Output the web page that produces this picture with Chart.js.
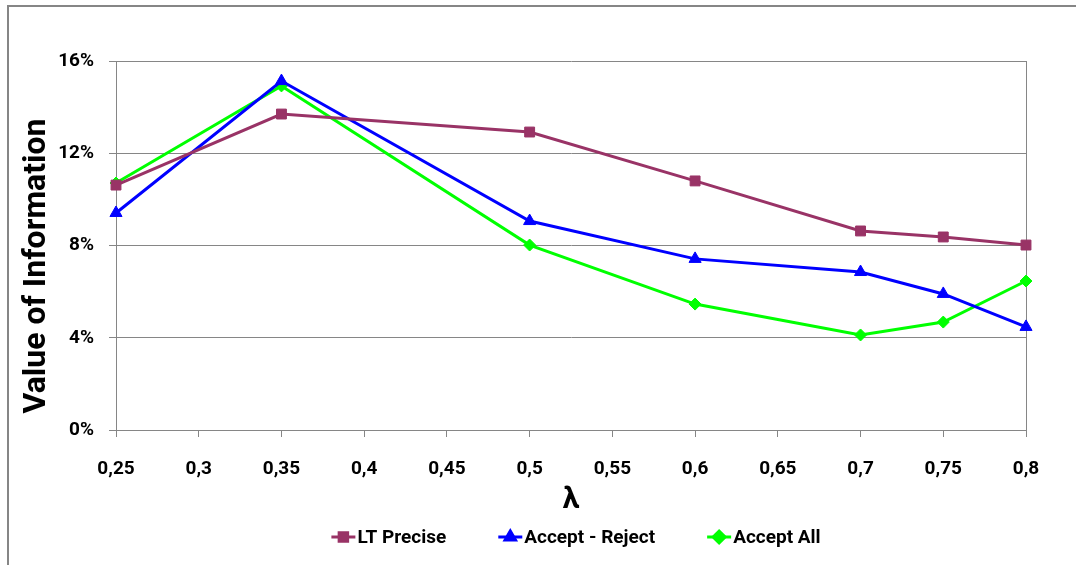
<!DOCTYPE html>
<html>
<head>
<meta charset="utf-8">
<script src="https://cdn.jsdelivr.net/npm/chart.js@4"></script>
<style>
  html, body { margin: 0; padding: 0; background: #fff; }
  #wrap { position: relative; width: 1076px; height: 565px; }
</style>
</head>
<body>
<div id="wrap"><canvas id="c" width="1076" height="565"></canvas></div>
<script>
// λ values and value-of-information (%) for each strategy
const lambdas       = [0.25, 0.35, 0.5, 0.6, 0.7, 0.75, 0.8];
const ltPrecise     = [10.62, 13.70, 12.92, 10.80, 8.63, 8.37, 8.02];
const acceptReject  = [9.41, 15.13, 9.06, 7.42, 6.85, 5.90, 4.47];
const acceptAll     = [10.71, 14.92, 8.02, 5.46, 4.12, 4.68, 6.46];
const seriesNames   = ['LT Precise', 'Accept - Reject', 'Accept All'];
const yTicks        = [0, 4, 8, 12, 16];
const yTitle        = 'Value of Information';
const xTitle        = 'λ';

const FONT = 'Roboto, "Liberation Sans", sans-serif';
const GRID = '#868686';

function pts(vals) { return lambdas.map((x, i) => ({ x, y: vals[i] })); }

const styles = [
  { color: '#993366', point: 'rect', radius: 7 },
  { color: '#0000FF', point: 'triangle', radius: 7 },
  { color: '#00FF00', point: 'rectRot', radius: 6 }
];
const seriesData = [ltPrecise, acceptReject, acceptAll];

// outer frame, right edge of the plot area, the y title and a line+marker legend
const frame = {
  id: 'frame',
  beforeDatasetsDraw(chart) {
    const ctx = chart.ctx, a = chart.chartArea;
    ctx.save();
    ctx.strokeStyle = GRID; ctx.lineWidth = 1;
    ctx.beginPath();
    ctx.moveTo(Math.round(a.right) + 0.5, a.top);
    ctx.lineTo(Math.round(a.right) + 0.5, a.bottom + 7);
    ctx.stroke();
    ctx.restore();
  },
  afterDraw(chart) {
    const ctx = chart.ctx, a = chart.chartArea;
    ctx.save();
    ctx.strokeStyle = GRID;
    ctx.lineWidth = 2;
    ctx.beginPath();
    ctx.moveTo(8, 565); ctx.lineTo(8, 6); ctx.lineTo(1076, 6);
    ctx.stroke();

    // y axis title
    ctx.save();
    ctx.translate(37, 266);
    ctx.rotate(-Math.PI / 2);
    ctx.font = 'bold 32px ' + FONT;
    ctx.fillStyle = '#000';
    ctx.textAlign = 'center';
    ctx.textBaseline = 'middle';
    ctx.fillText(yTitle, 0, 0);
    ctx.restore();

    // legend
    ctx.font = 'bold 19px ' + FONT;
    ctx.textBaseline = 'middle';
    ctx.textAlign = 'left';
    const icon = 24, gapText = 2, gapItem = 52;
    const widths = chart.data.datasets.map(ds => ctx.measureText(ds.label).width);
    const total = widths.reduce((s, w) => s + icon + gapText + w, 0) + gapItem * (widths.length - 1);
    let x = (a.left + a.right) / 2 + 5 - total / 2;
    const y = 537;
    chart.data.datasets.forEach((ds, i) => {
      const st = styles[i];
      ctx.strokeStyle = st.color; ctx.lineWidth = 3;
      ctx.beginPath(); ctx.moveTo(x, y); ctx.lineTo(x + icon, y); ctx.stroke();
      ctx.fillStyle = st.color;
      Chart.helpers.drawPoint(ctx, { pointStyle: st.point, radius: 6, borderWidth: 1 }, x + icon / 2, y);
      ctx.fill();
      ctx.fillStyle = '#000';
      ctx.fillText(ds.label, x + icon + gapText, y + 1);
      x += icon + gapText + widths[i] + gapItem;
    });
    ctx.restore();
  }
};

new Chart(document.getElementById('c'), {
  type: 'line',
  data: {
    datasets: seriesData.map((d, i) => ({
      label: seriesNames[i],
      data: pts(d),
      borderColor: styles[i].color,
      backgroundColor: styles[i].color,
      borderWidth: 3,
      pointStyle: styles[i].point,
      pointRadius: styles[i].radius,
      pointHoverRadius: styles[i].radius,
      pointBorderWidth: 1,
      tension: 0,
      fill: false,
      clip: false
    }))
  },
  options: {
    responsive: false,
    animation: false,
    devicePixelRatio: 1,
    layout: { padding: { left: 20, right: 50, top: 61, bottom: 47 } },
    plugins: {
      tooltip: { enabled: false },
      legend: { display: false }
    },
    scales: {
      x: {
        type: 'linear',
        min: 0.25, max: 0.8,
        afterBuildTicks(s) { s.ticks = []; for (let k = 0; k <= 11; k++) s.ticks.push({ value: +(0.25 + k * 0.05).toFixed(2) }); },
        ticks: {
          font: { family: FONT, size: 19, weight: 'bold' },
          color: '#000',
          padding: 21,
          maxRotation: 0,
          autoSkip: false,
          callback: v => String(+v.toFixed(2)).replace('.', ',')
        },
        grid: { drawOnChartArea: false, drawTicks: true, tickLength: 7, color: GRID },
        border: { color: GRID },
        title: {
          display: true, text: xTitle, color: '#000',
          font: { family: FONT, size: 30, weight: 'bold' },
          padding: { top: 0, bottom: 0 }
        },
        afterFit(s) { s.height = 88; }
      },
      y: {
        min: 0, max: 16,
        afterBuildTicks(s) { s.ticks = yTicks.map(v => ({ value: v })); },
        ticks: {
          font: { family: FONT, size: 19, weight: 'bold' },
          color: '#000',
          padding: 15,
          callback: v => v + '%'
        },
        grid: { color: GRID, tickLength: 7 },
        border: { color: GRID },
        afterFit(s) { s.width = 96; }
      }
    }
  },
  plugins: [frame]
});
</script>
</body>
</html>
